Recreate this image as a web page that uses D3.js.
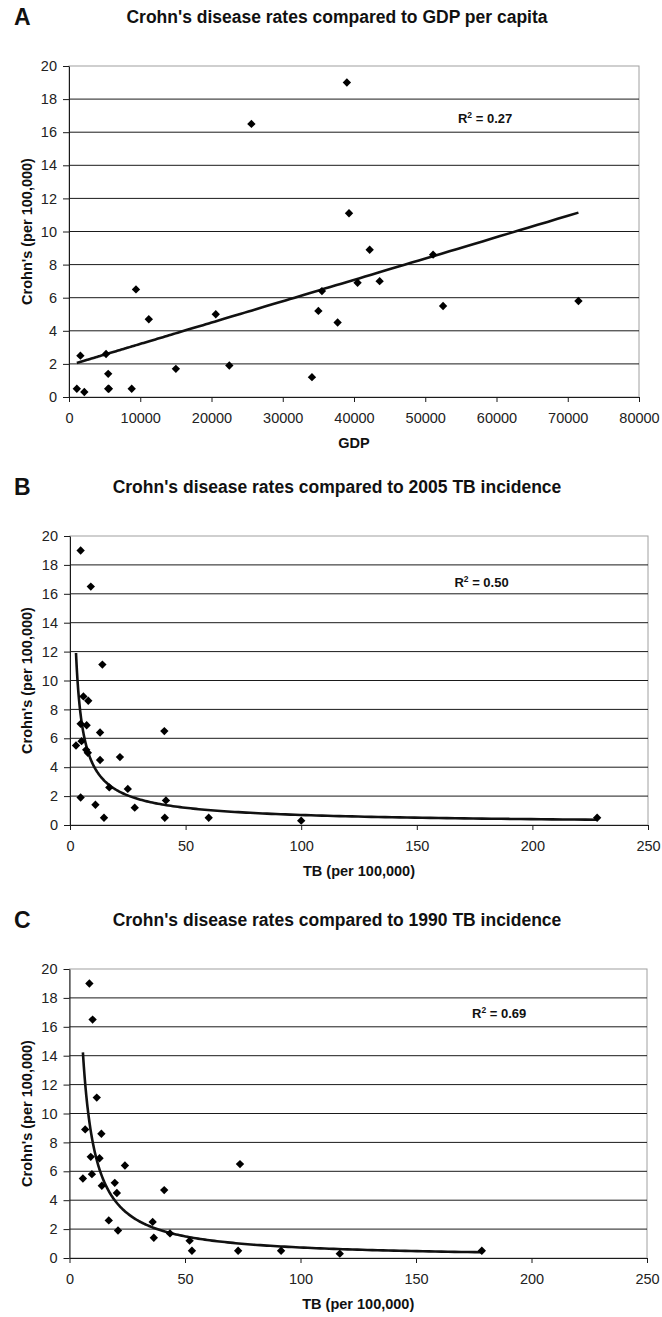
<!DOCTYPE html>
<html>
    <head>
        <title>Crohn's disease rates compared to GDP and TB incidence</title>
        <script src="https://d3js.org/d3.v7.min.js"></script>
        <style>
            * {
                font-family: 'Liberation Sans', Arial, sans-serif;
            }
            body {
                margin: 0;
                background: #fff;
            }
            svg {
                display: block;
            }
            .border {
                fill: none;
                stroke: #a0a0a0;
                stroke-width: 1px;
            }
            .grid line {
                stroke: #1a1a1a;
                stroke-width: 1px;
            }
            .axis path,
            .axis line {
                stroke: #1a1a1a;
            }
            .axis text {
                fill: #222;
                font-size: 14.5px;
            }
            .axis-title {
                font-weight: bold;
                font-size: 14.5px;
                fill: #111;
            }
            .chart-title {
                font-weight: bold;
                font-size: 17.5px;
                fill: #111;
            }
            .panel-letter {
                font-weight: bold;
                font-size: 23px;
                fill: #111;
            }
            .r2 {
                font-weight: bold;
                font-size: 13px;
                fill: #111;
            }
            .trend {
                fill: none;
                stroke: #111;
                stroke-width: 2.6px;
            }
        </style>
    </head>
    <body>
        <script>
            // A: Crohn's vs GDP per capita
            const gdp = [39000, 25600, 39300, 9400, 11200, 20600, 35500, 35000, 37700, 40500, 42200, 51100, 43600,
                52500, 71500, 1600, 5200, 5500, 15000, 22500, 34100, 1100, 2150, 5600, 8800, 5500];
            const crohnsA = [19.0, 16.5, 11.1, 6.5, 4.7, 5.0, 6.4, 5.2, 4.5, 6.9, 8.9, 8.6, 7.0,
                5.5, 5.8, 2.5, 2.6, 1.4, 1.7, 1.9, 1.2, 0.5, 0.3, 0.5, 0.5, 0.5];

            // B: Crohn's vs 2005 TB incidence
            const tb2005 = [4.6, 9, 14, 5.8, 7.9, 4.6, 7.2, 13, 40.8, 2.6, 5, 7, 7.7,
                13, 21.6, 4.6, 17, 25, 11, 28, 41.5, 14.7, 41, 60, 100, 228];
            const crohnsB = [19.0, 16.5, 11.1, 8.9, 8.6, 7.0, 6.9, 6.4, 6.5, 5.5, 5.8, 5.2, 5.0,
                4.5, 4.7, 1.9, 2.6, 2.5, 1.4, 1.2, 1.7, 0.5, 0.5, 0.5, 0.3, 0.5];

            // C: Crohn's vs 1990 TB incidence
            const tb1990 = [8.6, 10, 11.8, 6.8, 13.8, 9.2, 13, 24, 73.8, 5.8, 9.7, 19.6, 14,
                20.5, 41, 17, 21, 36, 36.5, 43.5, 52, 53, 73, 91.6, 117, 178.5];
            const crohnsC = [19.0, 16.5, 11.1, 8.9, 8.6, 7.0, 6.9, 6.4, 6.5, 5.5, 5.8, 5.2, 5.0,
                4.5, 4.7, 2.6, 1.9, 2.5, 1.4, 1.7, 1.2, 0.5, 0.5, 0.5, 0.3, 0.5];

            const yTicks = d3.range(0, 21, 2);
            const gdpTicks = d3.range(0, 80001, 10000);
            const tbTicks = d3.range(0, 251, 50);

            const panels = [
                {
                    letter: 'A', title: "Crohn's disease rates compared to GDP per capita", xTitle: 'GDP',
                    xs: gdp, ys: crohnsA, xTicks: gdpTicks, fit: 'linear', r2: '0.27', r2At: [58400, 16.85],
                    left: 69, right: 639, top: 66, bottom: 397
                },
                {
                    letter: 'B', title: "Crohn's disease rates compared to 2005 TB incidence", xTitle: 'TB (per 100,000)',
                    xs: tb2005, ys: crohnsB, xTicks: tbTicks, fit: 'power', r2: '0.50', r2At: [178, 16.8],
                    left: 70, right: 648, top: 536, bottom: 825
                },
                {
                    letter: 'C', title: "Crohn's disease rates compared to 1990 TB incidence", xTitle: 'TB (per 100,000)',
                    xs: tb1990, ys: crohnsC, xTicks: tbTicks, fit: 'power', r2: '0.69', r2At: [186, 16.95],
                    left: 69.5, right: 647, top: 969, bottom: 1258
                }
            ];

            const svg = d3.select('body').append('svg').attr('width', 662).attr('height', 1317);

            function linearFit(xs, ys) {
                const mx = d3.mean(xs);
                const my = d3.mean(ys);
                const sxy = d3.sum(xs, (x, i) => (x - mx) * (ys[i] - my));
                const sxx = d3.sum(xs, (x) => (x - mx) * (x - mx));
                const slope = sxy / sxx;
                const icpt = my - slope * mx;
                return (x) => icpt + slope * x;
            }

            // Excel-style power trendline: least squares on ln(x), ln(y)
            function powerFit(xs, ys) {
                const lx = xs.map(Math.log);
                const ly = ys.map(Math.log);
                const line = linearFit(lx, ly);
                return (x) => Math.exp(line(Math.log(x)));
            }

            panels.forEach((p) => {
                const x = d3.scaleLinear().domain(d3.extent(p.xTicks)).range([p.left, p.right]);
                const y = d3.scaleLinear().domain([0, 20]).range([p.bottom, p.top]);
                const g = svg.append('g');
                const midX = (p.left + p.right) / 2;

                g.append('text').attr('class', 'panel-letter').attr('x', 14).attr('y', p.top - 41).text(p.letter);
                g.append('text')
                    .attr('class', 'chart-title')
                    .attr('x', 337)
                    .attr('y', p.top - 43)
                    .attr('text-anchor', 'middle')
                    .text(p.title);

                g.append('rect')
                    .attr('class', 'border')
                    .attr('x', p.left)
                    .attr('y', p.top)
                    .attr('width', p.right - p.left)
                    .attr('height', p.bottom - p.top);

                g.append('g')
                    .attr('class', 'grid')
                    .selectAll('line')
                    .data(yTicks.filter((t) => t > 0 && t < 20))
                    .join('line')
                    .attr('x1', p.left)
                    .attr('x2', p.right)
                    .attr('y1', (d) => y(d))
                    .attr('y2', (d) => y(d));

                g.append('g')
                    .attr('class', 'axis')
                    .attr('transform', `translate(${p.left},0)`)
                    .call(d3.axisLeft(y).tickValues(yTicks).tickSize(6).tickSizeOuter(0).tickPadding(6))
                    .call((a) => a.selectAll('text').attr('font-family', null).attr('font-size', null));

                g.append('g')
                    .attr('class', 'axis')
                    .attr('transform', `translate(0,${p.bottom})`)
                    .call(
                        d3.axisBottom(x).tickValues(p.xTicks).tickFormat(d3.format('d')).tickSize(5).tickSizeOuter(0).tickPadding(11)
                    )
                    .call((a) => a.selectAll('text').attr('font-family', null).attr('font-size', null));

                g.append('text')
                    .attr('class', 'axis-title')
                    .attr('x', midX)
                    .attr('y', p.bottom + 51)
                    .attr('text-anchor', 'middle')
                    .text(p.xTitle);

                g.append('text')
                    .attr('class', 'axis-title')
                    .attr('transform', `translate(27,${(p.top + p.bottom) / 2}) rotate(-90)`)
                    .attr('dy', '0.35em')
                    .attr('text-anchor', 'middle')
                    .text("Crohn's (per 100,000)");

                // trend line over the data range
                const f = p.fit === 'linear' ? linearFit(p.xs, p.ys) : powerFit(p.xs, p.ys);
                const [x0, x1] = d3.extent(p.xs);
                const samples = d3.range(0, 201).map((i) => x0 * Math.pow(x1 / x0, i / 200));
                g.append('path')
                    .attr('class', 'trend')
                    .attr('d', d3.line().x((d) => x(d)).y((d) => y(f(d)))(samples));

                g.append('g')
                    .selectAll('path')
                    .data(p.xs.map((v, i) => [v, p.ys[i]]))
                    .join('path')
                    .attr('d', d3.symbol(d3.symbolSquare, 35))
                    .attr('transform', (d) => `translate(${x(d[0])},${y(d[1])}) rotate(45)`)
                    .attr('fill', '#000');

                const r2 = g
                    .append('text')
                    .attr('class', 'r2')
                    .attr('x', x(p.r2At[0]))
                    .attr('y', y(p.r2At[1]) + 4.7)
                    .attr('text-anchor', 'middle');
                r2.append('tspan').text('R');
                r2.append('tspan').attr('font-size', '8.5px').attr('dy', -5).text('2');
                r2.append('tspan').attr('dy', 5).text(' = ' + p.r2);
            });
        </script>
    </body>
</html>
